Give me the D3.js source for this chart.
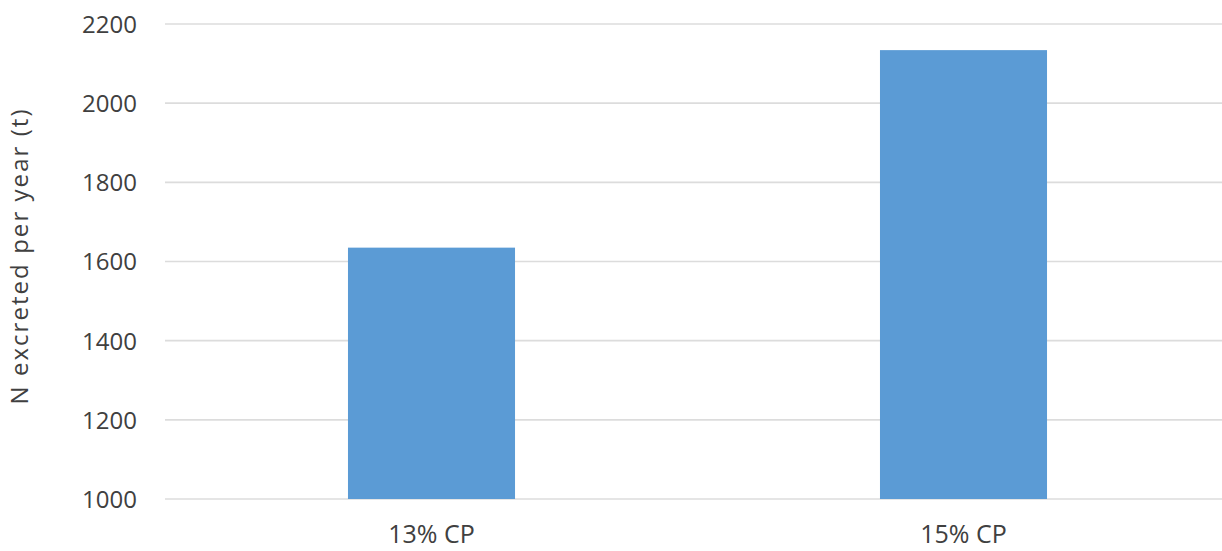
<!DOCTYPE html>
<html>
<head>
<meta charset="utf-8">
<script src="https://cdn.jsdelivr.net/npm/d3@7"></script>
<style>
  html, body { margin: 0; padding: 0; background: #ffffff; }
  svg { display: block; }
</style>
</head>
<body>
<svg id="chart" width="1222" height="551"></svg>
<script>
// Nitrogen excreted per year at two dietary crude-protein levels
const categories = ["13% CP", "15% CP"];
const values = [1635, 2134];
const yTicks = [1000, 1200, 1400, 1600, 1800, 2000, 2200];
const yTitle = "N excreted per year (t)";

const svg = d3.select("#chart");
const W = 1222, H = 551;
const plot = { left: 165.5, right: 1229.5, top: 24, bottom: 499 };

const x = d3.scaleBand()
  .domain(categories)
  .range([plot.left, plot.right])
  .paddingInner(0.686)
  .paddingOuter(0.343);

const y = d3.scaleLinear()
  .domain([1000, 2200])
  .range([plot.bottom, plot.top]);

// Horizontal gridlines
svg.append("g")
  .selectAll("line")
  .data(yTicks)
  .join("line")
  .attr("x1", 165)
  .attr("x2", W)
  .attr("y1", d => y(d))
  .attr("y2", d => y(d))
  .attr("stroke", "#dcdcdc")
  .attr("stroke-width", 1.6);

// Bars
svg.append("g")
  .selectAll("rect")
  .data(categories.map((c, i) => ({ c, v: values[i] })))
  .join("rect")
  .attr("x", d => x(d.c))
  .attr("width", x.bandwidth())
  .attr("y", d => y(d.v))
  .attr("height", d => y(1000) - y(d.v))
  .attr("fill", "#5b9bd5");

// Y axis tick labels
const yAxis = d3.axisLeft(y)
  .tickValues(yTicks)
  .tickFormat(d3.format("d"))
  .tickSize(0)
  .tickPadding(0);
const gy = svg.append("g")
  .attr("transform", "translate(137,0)")
  .call(yAxis);
gy.select(".domain").remove();
gy.selectAll("text")
  .attr("font-family", "'Open Sans', sans-serif")
  .attr("font-size", 24)
  .attr("fill", "#404040")
  .attr("dy", "0.35em");

// X axis category labels
const xAxis = d3.axisBottom(x).tickSize(0).tickPadding(0);
const gx = svg.append("g")
  .attr("transform", "translate(0,543)")
  .call(xAxis);
gx.select(".domain").remove();
gx.selectAll("text")
  .attr("font-family", "'Open Sans', sans-serif")
  .attr("font-size", 25)
  .attr("fill", "#404040")
  .attr("dy", "0");

// Y axis title
svg.append("text")
  .attr("transform", "translate(28,257) rotate(-90)")
  .attr("text-anchor", "middle")
  .attr("font-family", "'Open Sans', sans-serif")
  .attr("font-size", 24)
  .attr("textLength", 295)
  .attr("lengthAdjust", "spacing")
  .attr("fill", "#404040")
  .text(yTitle);
</script>
</body>
</html>
